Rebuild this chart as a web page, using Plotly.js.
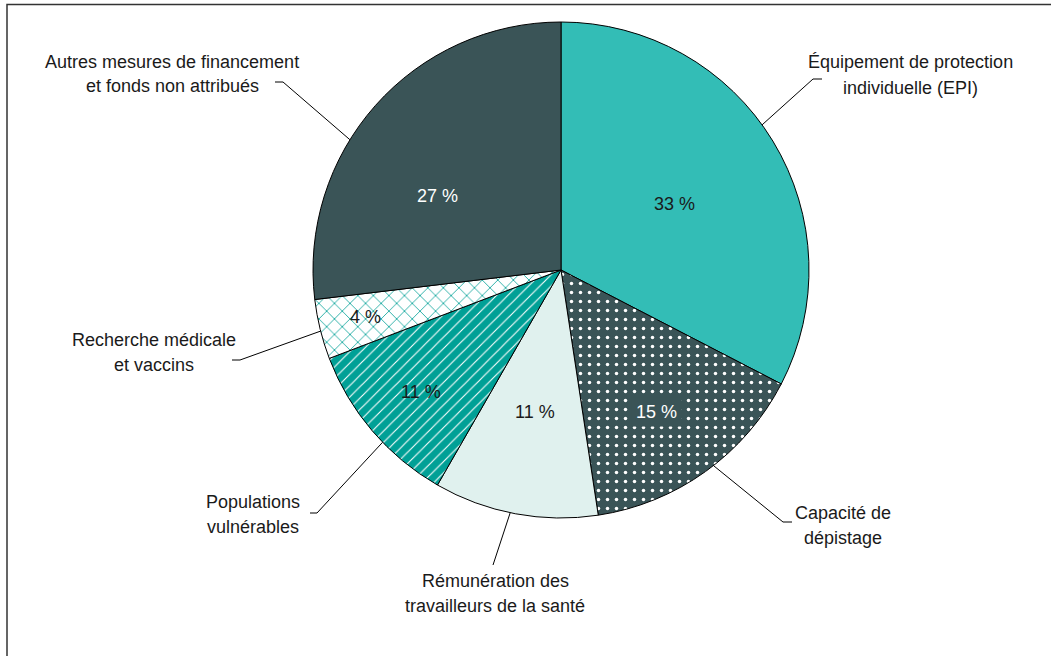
<!DOCTYPE html>
<html>
<head>
<meta charset="utf-8">
<script src="https://cdn.plot.ly/plotly-3.0.1.min.js"></script>
<style>html,body{margin:0;padding:0;background:#fff;}#chart{width:1051px;height:656px;}</style>
</head>
<body>
<div id="chart"></div>
<script>
// ---- data ----
const categories = [
  "Équipement de protection individuelle (EPI)",
  "Capacité de dépistage",
  "Rémunération des travailleurs de la santé",
  "Populations vulnérables",
  "Recherche médicale et vaccins",
  "Autres mesures de financement et fonds non attribués"
];
const shares = [32.6, 15.0, 10.7, 10.9, 3.9, 26.9];
const percentLabels = ["33 %", "15 %", "11 %", "11 %", "4 %", "27 %"];
const labelLine1 = ["Équipement de protection", "Capacité de", "Rémunération des", "Populations", "Recherche médicale", "Autres mesures de financement"];
const labelLine2 = ["individuelle (EPI)", "dépistage", "travailleurs de la santé", "vulnérables", "et vaccins", "et fonds non attribués"];

// ---- styles ----
const W = 1051, H = 656;
const cx = 561, cy = 270, R = 248;
const sliceColors = ["#33BDB6", "#3A5457", "#E0F1EE", "#00A096", "#FFFFFF", "#3A5457"];
const patShape = ["", ".", "", "/", "x", ""];
const patFg = ["#33BDB6", "#FFFFFF", "#E0F1EE", "#FFFFFF", "#00A096", "#3A5457"];
const patSize = [8, 9, 8, 8, 11, 8];
const patSolid = [0.3, 0.12, 0.3, 0.14, 0.14, 0.3];
const pctColor = ["#1a1a1a", "#FFFFFF", "#1a1a1a", "#1a1a1a", "#1a1a1a", "#FFFFFF"];
const pctBg = [null, "#3A5457", null, null, null, null];
const pctAngleOffset = [1.3, 1.8, -0.3, -0.6, 0.2, -10.8];
const pctRadius = [0.53, 0.69, 0.58, 0.75, 0.81, 0.58];
const leaderAngleOffset = [-4.5, -2.3, 1.2, -3.5, -0.4, -9.9];
const leaderElbow = [[813, 79], [783, 522], [493, 565], [317, 513], [240, 360], [283, 82]];
const leaderEnd = [[822, 79], [792, 522], null, [310, 513], [232, 360], [275, 82]];
const labelPos = [[910, 75], [843, 525], [495, 593], [253, 514], [154, 352], [172, 74]];
const lineGap = 25;

const px = x => x / W;
const py = y => 1 - y / H;

const total = shares.reduce((a, b) => a + b, 0);
let cum = 0;
const midAngles = shares.map(v => { const m = (cum + v / 2) / total * 360; cum += v; return m; });
function polar(angDeg, rf) {
  const a = angDeg * Math.PI / 180;
  return [cx + rf * R * Math.sin(a), cy - rf * R * Math.cos(a)];
}

const trace = {
  type: "pie",
  values: shares,
  labels: categories,
  sort: false,
  direction: "clockwise",
  rotation: 0,
  textinfo: "none",
  hoverinfo: "label+percent",
  showlegend: false,
  domain: { x: [px(cx - R), px(cx + R)], y: [py(cy + R), py(cy - R)] },
  marker: {
    colors: sliceColors,
    line: { color: "#000000", width: 1 },
    pattern: { shape: patShape, fgcolor: patFg, bgcolor: sliceColors, size: patSize, solidity: patSolid, fillmode: "replace" }
  }
};

const font18 = c => ({ family: "Liberation Sans, Arial, sans-serif", size: 18, color: c });
const annotations = [];
const shapes = [];
shares.forEach((v, i) => {
  const [tx, ty] = polar(midAngles[i] + pctAngleOffset[i], pctRadius[i]);
  const ann = {
    x: px(tx), y: py(ty), xref: "paper", yref: "paper", showarrow: false,
    text: percentLabels[i], xanchor: "center", yanchor: "middle", font: font18(pctColor[i])
  };
  if (pctBg[i]) { ann.bgcolor = pctBg[i]; ann.borderpad = 4; }
  annotations.push(ann);

  const [ex, ey] = polar(midAngles[i] + leaderAngleOffset[i], 1.0);
  let path = `M ${px(ex)} ${py(ey)} L ${px(leaderElbow[i][0])} ${py(leaderElbow[i][1])}`;
  if (leaderEnd[i]) path += ` L ${px(leaderEnd[i][0])} ${py(leaderEnd[i][1])}`;
  shapes.push({ type: "path", xref: "paper", yref: "paper", path: path, line: { color: "#000000", width: 1 } });

  [labelLine1[i], labelLine2[i]].forEach((t, k) => {
    annotations.push({
      x: px(labelPos[i][0]), y: py(labelPos[i][1] + (k - 0.5) * lineGap), xref: "paper", yref: "paper", showarrow: false,
      text: t, xanchor: "center", yanchor: "middle", align: "center", font: font18("#1a1a1a")
    });
  });
});

shapes.push({ type: "rect", xref: "paper", yref: "paper", x0: px(7), x1: 1.05, y0: -0.05, y1: py(4.5),
  line: { color: "#333333", width: 1.5 }, fillcolor: "rgba(0,0,0,0)" });

const layout = {
  width: W, height: H,
  margin: { l: 0, r: 0, t: 0, b: 0 },
  paper_bgcolor: "#FFFFFF",
  showlegend: false,
  annotations: annotations,
  shapes: shapes
};

Plotly.newPlot("chart", [trace], layout, { displayModeBar: false, staticPlot: true });
</script>
</body>
</html>
